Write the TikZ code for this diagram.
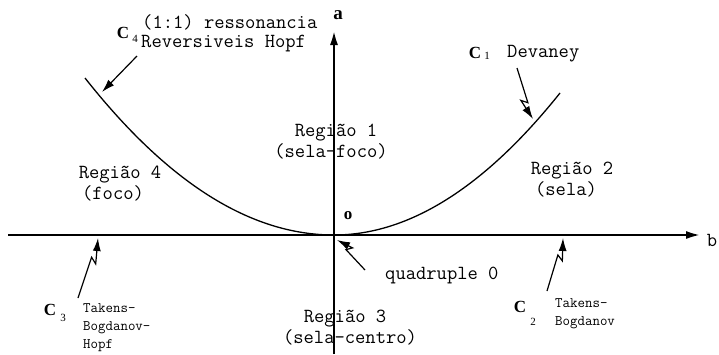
\documentclass[tikz,border=0pt]{standalone}
\usepackage{fontspec}
\setmainfont{Liberation Serif}
\usetikzlibrary{arrows.meta, calc}

\tikzset{
  axis/.style={line width=2.6pt, -{Latex[length=15pt,width=8pt]}},
  curve/.style={line width=1.3pt},
  pointer/.style={line width=1.2pt, -{Latex[length=13pt,width=8pt]}},
  bolt/.style={pointer, to path={-- ($(\tikztostart)!0.68!(\tikztotarget)$) -- ($(\tikztostart)!0.6!(\tikztotarget)!6pt!-90:(\tikztotarget)$) -- (\tikztotarget) \tikztonodes}},
  lbl/.style={font=\fontsize{20}{22}\selectfont\ttfamily, inner sep=0pt, text height=11pt, text depth=3pt},
  small/.style={font=\fontsize{14.5}{18}\selectfont\ttfamily, inner sep=0pt, align=left, anchor=west},
  cname/.style={font=\fontsize{17}{17}\selectfont\rmfamily\bfseries, inner sep=0pt},
  cidx/.style={font=\fontsize{11}{11}\selectfont\rmfamily, inner sep=0pt},
}

\begin{document}
\begin{tikzpicture}[x=1pt, y=-1pt]
  \useasboundingbox (0,0) rectangle (719,354);
  \coordinate (aBot) at (334,354);
  \coordinate (aTop) at (334,30);
  \coordinate (bLeft) at (8,235);
  \coordinate (bRight) at (701,235);
  \coordinate (O) at (334,235);
  \coordinate (c4end) at (85,78);
  \coordinate (c1end) at (560,93);
  \coordinate (c4from) at (137,56);
  \coordinate (c4to) at (102,92);
  \coordinate (c1from) at (517,68);
  \coordinate (c1to) at (533,119);
  \coordinate (qfrom) at (365,270);
  \coordinate (qto) at (337,240);
  \coordinate (c3from) at (78,298);
  \coordinate (c3to) at (98,238);
  \coordinate (c2from) at (547,291);
  \coordinate (c2to) at (563,238);
  \draw[axis] (bLeft) -- (bRight);
  \draw[axis] (aBot) -- (aTop);
  \draw[curve] (c4end) .. controls (167.7,182.7) and (250.3,235) .. (O) .. controls (408.7,235) and (484.3,187.7) .. (c1end);
  \node[font=\fontsize{19}{19}\selectfont\rmfamily\bfseries, inner sep=0pt] (a) at (338,15) {a};
  \node[font=\fontsize{20}{20}\selectfont\ttfamily, inner sep=0pt] (b) at (712,240) {b};
  \node[font=\fontsize{17}{17}\selectfont\rmfamily\bfseries, inner sep=0pt] (o) at (348,216) {o};
  \node[cname] (C4) at (123,33) {C};
  \node[cidx] (C4i) at (135,39) {4};
  \node[lbl, anchor=west] (C4a) at (142,24) {(1:1) ressonancia};
  \node[lbl, anchor=west] (C4b) at (141,43) {Reversiveis Hopf};
  \node[cname] (C1) at (475,53) {C};
  \node[cidx] (C1i) at (487,56) {1};
  \node[lbl, anchor=west] (C1a) at (507,53) {Devaney};
  \node[lbl] (R1) at (336,132) {Região 1};
  \node[lbl] (R1b) at (331,153) {(sela-foco)};
  \node[lbl] (R2) at (572,170) {Região 2};
  \node[lbl] (R2b) at (566,191) {(sela)};
  \node[lbl] (R4) at (120,174) {Região 4};
  \node[lbl] (R4b) at (113,195) {(foco)};
  \node[lbl] (R3) at (345,318) {Região 3};
  \node[lbl] (R3b) at (350,339) {(sela-centro)};
  \node[lbl, anchor=west] (Q) at (385,275) {quadruple 0};
  \node[cname] (C3) at (50,310) {C};
  \node[cidx] (C3i) at (63,318) {3};
  \node[small] (C3a) at (83,328) {Takens-\\Bogdanov-\\Hopf};
  \node[cname] (C2) at (520,307) {C};
  \node[cidx] (C2i) at (533,322) {2};
  \node[small] (C2a) at (555,314) {Takens-\\Bogdanov};
  \draw[pointer] (c4from) -- (c4to);
  \draw[bolt] (c1from) to (c1to);
  \draw[bolt] (qfrom) to (qto);
  \draw[bolt] (c3from) to (c3to);
  \draw[bolt] (c2from) to (c2to);
\end{tikzpicture}
\end{document}
